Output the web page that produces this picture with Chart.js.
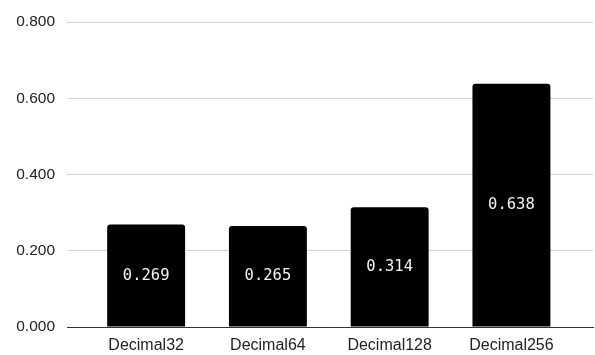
<!DOCTYPE html>
<html><head><meta charset="utf-8">
<script src="https://cdn.jsdelivr.net/npm/chart.js@4"></script>
<style>html,body{margin:0;padding:0;background:#fff}#w{width:595px;height:355px}</style>
</head><body><div id="w"><canvas id="c"></canvas></div>
<script>
const categories = ["Decimal32", "Decimal64", "Decimal128", "Decimal256"];
const values = [0.269, 0.265, 0.314, 0.638];
const yTicks = [0, 0.2, 0.4, 0.6, 0.8];

const valueLabels = {
  id: 'valueLabels',
  afterDatasetsDraw(chart) {
    const ctx = chart.ctx;
    const meta = chart.getDatasetMeta(0);
    ctx.save();
    ctx.fillStyle = '#f4f4f4';
    ctx.font = '15.5px "DejaVu Sans Mono"';
    ctx.textAlign = 'center';
    ctx.textBaseline = 'middle';
    meta.data.forEach((el, i) => {
      ctx.fillText(values[i].toFixed(3), el.x, (el.y + el.base) / 2);
    });
    ctx.restore();
  }
};

new Chart(document.getElementById('c'), {
  type: 'bar',
  data: {
    datasets: [{
      data: values.map((v, i) => ({x: i, y: v})),
      backgroundColor: '#000',
      borderRadius: {topLeft: 3, topRight: 3, bottomLeft: 0, bottomRight: 0},
      borderSkipped: false,
      categoryPercentage: 0.8,
      barPercentage: 0.8
    }]
  },
  options: {
    responsive: true,
    maintainAspectRatio: false,
    animation: false,
    layout: {padding: {top: 22, right: 2, left: 0, bottom: 0}},
    plugins: {legend: {display: false}, tooltip: {enabled: false}},
    scales: {
      x: {
        type: 'linear',
        offset: false,
        min: -0.65,
        max: 3.67,
        afterBuildTicks(scale) { scale.ticks = categories.map((_, i) => ({value: i})); },
        afterFit(scale) { scale.height = 28; },
        grid: {display: false, drawTicks: false, offset: false},
        border: {display: true, color: '#333', width: 1},
        ticks: {
          callback: (v) => categories[v] ?? '',
          color: '#222',
          font: {family: '"Liberation Sans"', size: 16},
          padding: 9,
          autoSkip: false,
          maxRotation: 0
        }
      },
      y: {
        min: 0,
        max: 0.8,
        afterBuildTicks(scale) { scale.ticks = yTicks.map(v => ({value: v})); },
        afterFit(scale) { scale.width = 67; },
        grid: {color: '#d0d0d0', drawTicks: false},
        border: {display: false},
        ticks: {
          callback: (v) => v.toFixed(3),
          color: '#222',
          font: {family: '"Liberation Sans"', size: 15.5},
          padding: 12
        }
      }
    }
  },
  plugins: [valueLabels]
});
</script></body></html>
